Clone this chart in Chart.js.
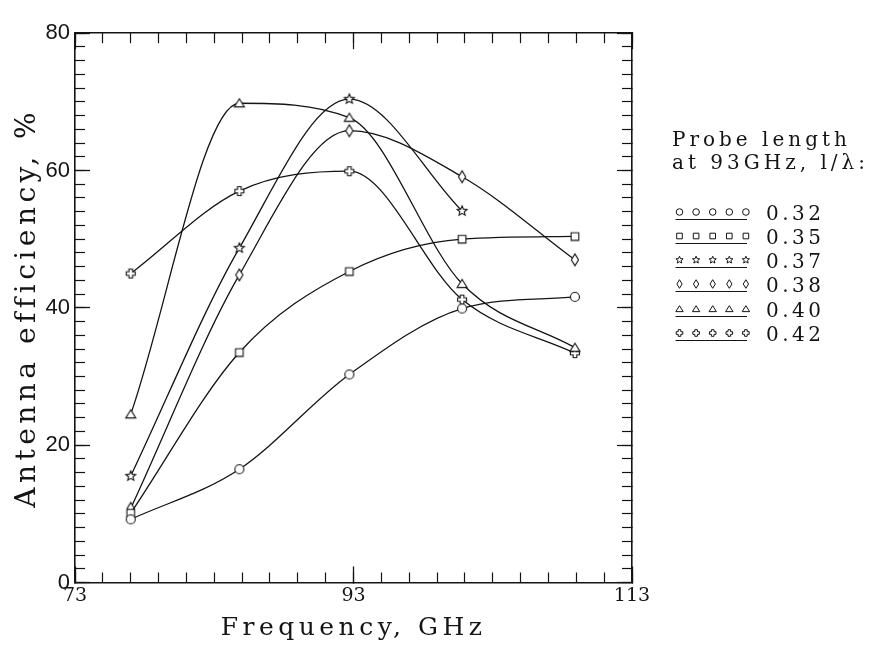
<!DOCTYPE html>
<html>
<head>
<meta charset="utf-8">
<script src="https://cdn.jsdelivr.net/npm/chart.js@4.4.1/dist/chart.umd.min.js"></script>
<style>
html,body{margin:0;padding:0;background:#fff;}
#wrap{position:relative;width:878px;height:647px;overflow:hidden;}
#c{display:block;}
#legend{position:absolute;left:0;top:0;width:878px;height:647px;pointer-events:none;
  font-family:"DejaVu Serif",serif;color:#141414;}
#legend .ttl{position:absolute;left:672px;top:127.5px;font-size:20px;line-height:23px;
  letter-spacing:4px;white-space:nowrap;}
#legend .row{position:absolute;left:675px;height:24px;display:flex;align-items:center;
  font-size:20px;letter-spacing:3.5px;white-space:nowrap;}
#legend .row canvas{display:block;margin-right:11px;}
</style>
</head>
<body>
<div id="wrap"><canvas id="c" width="878" height="647"></canvas><div id="legend"></div></div>
<script>
// ---------------- data ----------------
const frequencies = [77, 84.8, 92.7, 100.8, 108.9];
const seriesLabels = ['0.32', '0.35', '0.37', '0.38', '0.40', '0.42'];
const eff032 = [9.2, 16.5, 30.3, 39.9, 41.6];
const eff035 = [10.1, 33.5, 45.3, 50.0, 50.4];
const eff037 = [15.5, 48.7, 70.4, 54.1, null];
const eff038 = [10.8, 44.8, 65.8, 59.1, 47.0];
const eff040 = [24.5, 69.8, 67.7, 43.5, 34.2];
const eff042 = [45.0, 57.0, 59.9, 41.2, 33.4];
const xTickLabels = [73, 93, 113];
const yTickLabels = [0, 20, 40, 60, 80];
const legendTitle = ['Probe length', 'at 93GHz, l/\u03bb:'];
const xTitle = 'Frequency, GHz';
const yTitle = 'Antenna efficiency, %';

// ---------------- styling / layout constants ----------------
const INK = '#141414';
const SERIF = '"DejaVu Serif", serif';
const SANS = '"Liberation Sans", Arial, sans-serif';
const SPACING = '4.5px';
const PLOT_LEFT = 75, PLOT_RIGHT = 632, PLOT_TOP = 22, PLOT_BOTTOM = 582.5;
const W = 878, H = 647;
const LEGEND_ROW_CENTERS = [213, 237, 261, 285, 310, 334];
const markerTypes = ['circle', 'square', 'star', 'diamond', 'triangle', 'plus'];

function drawShape(g, type, cx, cy, s) {
  g.beginPath();
  if (type === 'circle') {
    g.arc(cx, cy, s, 0, Math.PI * 2);
  } else if (type === 'square') {
    const h = s * 0.85;
    g.rect(cx - h, cy - h, 2 * h, 2 * h);
  } else if (type === 'star') {
    const R = s * 1.15, r = R * 0.45;
    for (let k = 0; k < 10; k++) {
      const a = -Math.PI / 2 + k * Math.PI / 5;
      const rr = k % 2 ? r : R;
      const px = cx + rr * Math.cos(a), py = cy + rr * Math.sin(a);
      k ? g.lineTo(px, py) : g.moveTo(px, py);
    }
    g.closePath();
  } else if (type === 'diamond') {
    g.moveTo(cx, cy - 1.3 * s); g.lineTo(cx + 0.8 * s, cy);
    g.lineTo(cx, cy + 1.3 * s); g.lineTo(cx - 0.8 * s, cy); g.closePath();
  } else if (type === 'triangle') {
    g.moveTo(cx, cy - 1.0 * s); g.lineTo(cx + 1.12 * s, cy + 0.8 * s);
    g.lineTo(cx - 1.12 * s, cy + 0.8 * s); g.closePath();
  } else if (type === 'plus') {
    const a = 0.4 * s, b = 1.0 * s;
    const pts = [[-a,-b],[a,-b],[a,-a],[b,-a],[b,a],[a,a],[a,b],[-a,b],[-a,a],[-b,a],[-b,-a],[-a,-a]];
    pts.forEach((p, k) => k ? g.lineTo(cx + p[0], cy + p[1]) : g.moveTo(cx + p[0], cy + p[1]));
    g.closePath();
  }
  g.fill();
  g.stroke();
}

function markerCanvas(type) {
  const c = document.createElement('canvas');
  c.width = 18; c.height = 18;
  const g = c.getContext('2d');
  g.lineWidth = 1.1; g.strokeStyle = INK; g.fillStyle = '#fff';
  drawShape(g, type, 9, 9, 4.5);
  return c;
}

function legendCanvas(type) {
  const c = document.createElement('canvas');
  c.width = 80; c.height = 24;
  const g = c.getContext('2d');
  g.lineWidth = 1; g.strokeStyle = INK; g.fillStyle = '#fff';
  for (let k = 0; k < 5; k++) drawShape(g, type, 4.5 + k * 16.6, 11, 3.3);
  g.beginPath(); g.lineWidth = 1.2;
  g.moveTo(0.5, 18.5); g.lineTo(72, 18.5); g.stroke();
  return c;
}

const pointImgs = markerTypes.map(markerCanvas);

// ---------------- HTML legend ----------------
const legendEl = document.getElementById('legend');
const ttl = document.createElement('div');
ttl.className = 'ttl';
ttl.innerHTML = legendTitle.map(t => t.replace(/&/g, '&amp;').replace(/</g, '&lt;')).join('<br>');
legendEl.appendChild(ttl);
seriesLabels.forEach((lab, i) => {
  const row = document.createElement('div');
  row.className = 'row';
  row.style.top = (LEGEND_ROW_CENTERS[i] - 12) + 'px';
  row.appendChild(legendCanvas(markerTypes[i]));
  const sp = document.createElement('span');
  sp.textContent = lab;
  row.appendChild(sp);
  legendEl.appendChild(row);
});

// ---------------- chart ----------------
const seriesValues = [eff032, eff035, eff037, eff038, eff040, eff042];
const datasets = seriesValues.map((vals, i) => ({
  label: seriesLabels[i],
  data: frequencies.map((f, j) => ({x: f, y: vals[j]})).filter(p => p.y !== null),
  xAxisID: 'x', yAxisID: 'y',
  borderColor: INK,
  borderWidth: 1.3,
  fill: false,
  tension: 0.4,
  cubicInterpolationMode: 'monotone',
  pointStyle: pointImgs[i],
  pointRadius: 5,
  pointHoverRadius: 5
}));

const spacingPlugin = {
  id: 'spacing',
  beforeUpdate(chart) { chart.ctx.letterSpacing = SPACING; },
  beforeDraw(chart) { chart.ctx.letterSpacing = SPACING; },
  afterDatasetsDraw(chart) { chart.ctx.letterSpacing = '0px'; }
};

const xMin = xTickLabels[0], xMax = xTickLabels[xTickLabels.length - 1];
const yMin = yTickLabels[0], yMax = yTickLabels[yTickLabels.length - 1];
const xMajor = xTickLabels[1] - xTickLabels[0];
const yMajor = yTickLabels[1] - yTickLabels[0];

function tickAxis(position, isX, step, len, weight, extra) {
  return Object.assign({
    type: 'linear', position, weight,
    min: isX ? xMin : yMin, max: isX ? xMax : yMax,
    ticks: {display: false, stepSize: step, autoSkip: false},
    grid: {display: true, drawOnChartArea: false, drawTicks: true, tickLength: -len,
           tickColor: INK, tickWidth: 1.2},
    border: {display: false},
    afterFit: s => { if (s.isHorizontal()) s.height = 0; else s.width = 0; }
  }, extra || {});
}

new Chart(document.getElementById('c'), {
  type: 'line',
  data: {datasets},
  plugins: [spacingPlugin],
  options: {
    responsive: false,
    animation: false,
    events: [],
    layout: {padding: {top: PLOT_TOP, right: W - PLOT_RIGHT, bottom: 0, left: 0}},
    scales: {
      x: {
        type: 'linear', position: 'bottom', weight: 1, min: xMin, max: xMax,
        ticks: {stepSize: xMajor, autoSkip: false, maxRotation: 0, padding: 18, z: 1,
                color: INK, font: {family: SERIF, size: 19}},
        grid: {display: true, drawOnChartArea: false, drawTicks: true, tickLength: -16,
               tickColor: INK, tickWidth: 1.3},
        border: {display: true, color: INK, width: 1.6},
        title: {display: true, text: xTitle, color: INK, font: {family: SERIF, size: 25},
                padding: {top: 0, bottom: 4}},
        afterFit: s => { s.height = H - PLOT_BOTTOM; }
      },
      xm: tickAxis('bottom', true, 2, 10, 0),
      xt: tickAxis('top', true, 2, 10, 0, {border: {display: true, color: INK, width: 1.6}}),
      xtM: tickAxis('top', true, xMajor, 16, 1),
      y: {
        type: 'linear', position: 'left', weight: 1, min: yMin, max: yMax,
        ticks: {stepSize: yMajor, autoSkip: false, padding: 20, z: 1,
                color: INK, font: {family: SANS, size: 22}},
        grid: {display: true, drawOnChartArea: false, drawTicks: true, tickLength: -15,
               tickColor: INK, tickWidth: 1.3},
        border: {display: true, color: INK, width: 1.6},
        title: {display: true, text: yTitle, color: INK, font: {family: SERIF, size: 28},
                padding: {top: 11, bottom: 0}},
        afterFit: s => { s.width = PLOT_LEFT; }
      },
      ym: tickAxis('left', false, 2, 10, 0),
      yr: tickAxis('right', false, 2, 10, 0, {border: {display: true, color: INK, width: 1.6}}),
      yrM: tickAxis('right', false, yMajor, 15, 1)
    },
    plugins: {
      tooltip: {enabled: false},
      legend: {display: false}
    }
  }
});
</script>
</body>
</html>
